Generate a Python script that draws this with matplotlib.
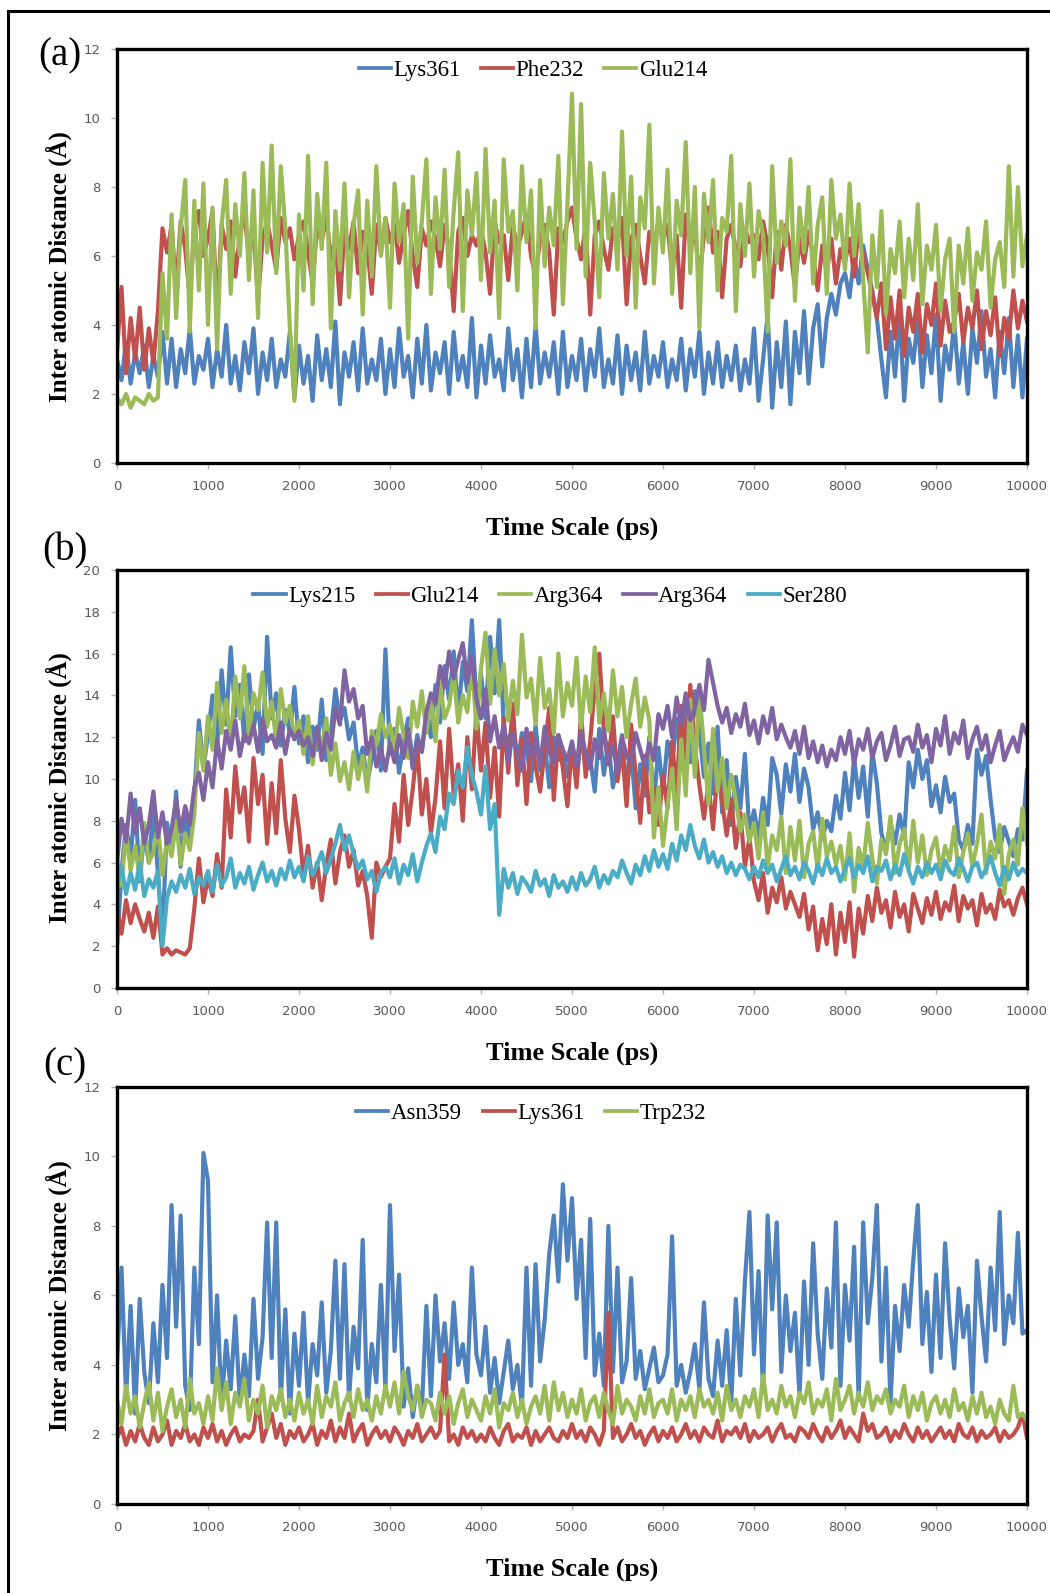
import numpy as np
import matplotlib
matplotlib.use("Agg")
import matplotlib.pyplot as plt
from matplotlib.patches import Rectangle

# ---- panel (a) ----
a_labels = ['Lys361', 'Phe232', 'Glu214']
a_lys361 = [
    3.0, 2.4, 3.5, 2.3, 3.2, 2.6, 3.4, 2.2, 3.1, 2.5, 3.8, 2.3, 3.6, 2.2, 3.3, 2.6, 3.9, 2.3, 3.1, 2.7,
    3.6, 2.2, 3.3, 2.5, 4.0, 2.3, 3.1, 2.1, 3.5, 2.6, 3.9, 2.0, 3.2, 2.4, 3.6, 2.2, 3.0, 2.5, 3.8, 1.9,
    3.4, 2.3, 3.1, 1.8, 3.7, 2.4, 3.3, 2.2, 4.1, 1.7, 3.2, 2.5, 3.5, 2.1, 3.9, 2.3, 3.0, 2.4, 3.6, 2.0,
    3.3, 2.2, 3.9, 2.5, 3.1, 1.9, 3.6, 2.3, 4.0, 2.1, 3.2, 2.6, 3.5, 2.0, 3.8, 2.4, 3.1, 2.2, 4.2, 1.9,
    3.4, 2.3, 3.7, 2.5, 3.0, 2.1, 3.9, 2.4, 3.3, 1.9, 3.6, 2.2, 4.0, 2.3, 3.2, 2.5, 3.5, 2.0, 3.8, 2.2,
    3.1, 2.4, 3.6, 2.1, 3.3, 2.5, 3.9, 2.2, 3.0, 2.3, 3.7, 2.0, 3.4, 2.4, 3.2, 2.1, 3.8, 2.3, 3.1, 2.5,
    3.5, 2.2, 3.0, 2.4, 3.6, 2.1, 3.3, 2.5, 3.8, 2.0, 3.2, 2.3, 3.5, 2.2, 3.1, 2.4, 3.4, 2.1, 3.0, 2.3,
    3.9, 1.8, 3.0, 4.3, 1.6, 3.5, 2.2, 4.1, 1.7, 3.8, 2.6, 4.4, 2.3, 3.9, 4.6, 2.8, 4.2, 4.9, 4.3, 5.2,
    5.5, 4.8, 6.0, 5.2, 6.3, 5.6, 5.0, 4.2, 3.0, 1.9, 3.8, 2.5, 4.4, 1.8, 3.6, 2.9, 4.2, 2.2, 3.7, 2.6,
    4.3, 1.8, 3.4, 2.7, 4.1, 2.3, 3.5, 2.0, 3.9, 2.9, 4.4, 2.5, 3.3, 1.9, 3.8, 2.6, 4.2, 2.2, 3.7, 1.9,
    3.6]
a_phe232 = [
    3.2, 5.1, 2.6, 4.2, 3.0, 4.5, 2.7, 3.9, 2.9, 4.4, 6.8, 6.1, 6.9, 5.0, 7.0, 6.2, 4.8, 6.8, 7.3, 6.0,
    6.5, 7.3, 4.3, 6.9, 6.2, 7.0, 5.4, 6.6, 7.2, 6.0, 6.8, 4.7, 6.5, 7.0, 6.3, 5.6, 7.1, 6.4, 6.8, 5.9,
    6.6, 7.0, 6.1, 5.2, 6.9, 6.4, 7.2, 5.9, 6.5, 4.6, 6.8, 6.2, 7.0, 5.5, 6.7, 6.3, 4.9, 6.9, 6.1, 7.1,
    6.4, 6.9, 5.8, 6.6, 7.3, 6.0, 5.1, 6.8, 6.3, 7.0, 6.5, 5.7, 6.9, 6.2, 4.4, 6.7, 7.1, 6.0, 6.6, 6.3,
    6.8, 6.1, 4.9, 7.0, 6.4, 6.6, 5.3, 6.9, 6.2, 6.7, 7.2, 6.0, 5.4, 6.5, 6.9, 6.1, 4.3, 6.8, 6.4, 7.0,
    7.4, 6.5, 5.9, 6.9, 4.3, 6.6, 7.0, 6.2, 5.6, 6.8, 6.4, 7.1, 4.6, 6.5, 6.9, 6.0, 5.2, 6.7, 6.3, 7.0,
    6.5, 6.9, 5.5, 6.6, 4.5, 7.2, 6.3, 6.8, 5.3, 6.6, 7.4, 6.1, 6.7, 4.8, 6.5, 6.9, 6.2, 5.7, 6.8, 6.4,
    6.6, 5.9, 7.0, 6.3, 4.8, 6.7, 5.6, 6.9, 6.2, 5.1, 6.5, 5.8, 6.7, 6.0, 5.0, 6.3, 5.5, 6.5, 5.2, 6.2,
    5.8, 6.5, 5.4, 6.8, 6.0, 5.5, 4.9, 4.2, 5.2, 3.3, 4.8, 3.6, 5.0, 3.1, 4.5, 3.8, 4.9, 3.2, 4.6, 4.0,
    5.2, 3.4, 4.7, 3.8, 4.1, 4.9, 3.5, 4.5, 3.9, 5.0, 3.3, 4.4, 3.7, 4.8, 3.1, 4.2, 3.6, 5.0, 3.9, 4.7,
    4.1]
a_glu214 = [
    1.9, 1.7, 2.0, 1.6, 1.9, 1.8, 1.7, 2.0, 1.8, 1.9, 5.5, 3.6, 7.2, 4.2, 6.8, 8.2, 3.8, 7.6, 5.0, 8.1,
    4.0, 7.4, 3.3, 6.9, 8.2, 4.9, 7.5, 6.0, 8.4, 5.3, 7.9, 4.2, 8.7, 6.1, 9.2, 5.5, 8.6, 6.8, 3.9, 1.8,
    7.2, 5.0, 8.9, 4.6, 7.8, 6.2, 8.7, 3.9, 7.3, 5.6, 8.1, 4.8, 6.9, 7.9, 4.3, 7.6, 5.4, 8.6, 6.0, 7.1,
    4.5, 8.1, 6.4, 7.5, 3.6, 8.3, 5.8, 7.0, 8.8, 4.9, 7.7, 6.2, 8.5, 5.1, 7.3, 9.0, 4.4, 7.9, 6.6, 8.4,
    5.3, 9.1, 6.1, 7.6, 4.2, 8.8, 6.7, 7.3, 5.0, 8.6, 6.4, 7.9, 3.9, 8.2, 5.7, 7.4, 6.3, 8.9, 4.6, 7.5,
    10.7, 6.2, 10.4, 5.4, 8.7, 7.0, 4.8, 8.4, 6.5, 7.8, 5.6, 9.6, 6.0, 8.3, 4.5, 7.7, 6.8, 9.8, 5.2, 7.4,
    6.1, 8.5, 4.9, 7.6, 6.6, 9.3, 5.5, 8.0, 3.9, 7.8, 6.4, 8.2, 5.0, 7.1, 6.7, 8.9, 4.4, 7.5, 6.0, 8.1,
    5.4, 7.3, 6.6, 3.8, 8.6, 5.8, 7.0, 6.3, 8.8, 4.7, 7.4, 6.1, 8.0, 5.2, 6.9, 7.7, 4.9, 8.2, 6.5, 7.2,
    5.6, 8.1, 6.0, 7.5, 5.3, 3.2, 6.6, 5.1, 7.3, 4.3, 6.2, 5.5, 7.0, 4.8, 6.5, 5.3, 7.5, 4.6, 6.3, 5.6,
    6.9, 4.4, 5.9, 6.5, 3.8, 6.3, 5.2, 6.8, 4.7, 6.1, 5.6, 7.0, 4.5, 5.9, 6.4, 5.1, 8.6, 5.4, 8.0, 5.7,
    6.6]

# ---- panel (b) ----
b_labels = ['Lys215', 'Glu214', 'Arg364', 'Arg364', 'Ser280']
b_lys215 = [
    1.9, 5.6, 7.8, 6.2, 9.0, 5.1, 7.4, 6.0, 8.5, 5.5, 2.5, 7.9, 6.4, 9.4, 5.8, 8.3, 7.0, 9.2, 12.8, 10.5,
    12.1, 14.0, 11.5, 15.2, 12.6, 16.3, 13.0, 14.5, 11.8, 15.0, 12.4, 13.6, 11.2, 16.8, 12.9, 14.1, 11.6, 13.3, 12.2, 14.4,
    11.7, 13.0, 10.8, 12.5, 11.4, 13.8, 10.9, 12.2, 14.3, 12.8, 13.4, 11.9, 12.7, 10.6, 11.5, 9.8, 11.0, 12.3, 10.4, 16.2,
    11.2, 12.4, 10.3, 11.8, 12.9, 10.6, 12.1, 11.3, 13.2, 12.0, 14.5, 12.7, 15.4, 13.8, 16.1, 13.0, 15.6, 14.2, 17.6, 13.6,
    15.0, 12.9, 16.8, 14.1, 17.6, 12.5, 11.4, 13.0, 10.8, 12.2, 11.5, 9.9, 12.6, 10.4, 11.8, 9.6, 12.0, 10.9, 11.3, 10.1,
    11.6, 9.8, 12.2, 10.5, 11.0, 9.4, 12.4, 10.2, 11.7, 9.6, 10.8, 12.1, 9.5, 11.3, 8.6, 10.7, 9.2, 12.0, 8.8, 11.5,
    9.4, 11.8, 10.6, 12.9, 11.0, 13.6, 10.8, 14.2, 12.3, 10.1, 11.7, 9.3, 12.5, 8.4, 10.9, 7.8, 10.1, 8.6, 11.2, 7.4,
    8.5, 7.2, 9.1, 7.8, 11.0, 10.2, 8.3, 10.7, 9.4, 11.2, 8.9, 10.5, 9.6, 7.6, 8.4, 7.1, 8.0, 7.5, 9.2, 8.1,
    10.3, 8.5, 11.0, 9.1, 10.6, 8.2, 11.3, 9.8, 7.4, 6.6, 7.9, 6.9, 8.3, 7.2, 10.8, 9.6, 11.4, 10.0, 10.9, 8.7,
    9.7, 8.4, 10.1, 8.9, 9.3, 7.1, 6.6, 7.8, 6.9, 11.4, 10.2, 11.1, 9.0, 7.2, 6.5, 7.7, 7.0, 6.3, 7.6, 7.1,
    10.4]
b_glu214 = [
    3.8, 2.6, 4.2, 3.1, 4.0, 3.3, 2.7, 3.6, 2.4, 3.9, 1.6, 1.9, 1.6, 1.8, 1.7, 1.6, 1.9, 3.8, 6.2, 4.1,
    5.3, 4.4, 6.4, 4.8, 9.5, 7.2, 10.6, 8.4, 9.6, 7.0, 11.0, 8.8, 10.2, 6.9, 9.8, 7.4, 10.9, 8.1, 6.5, 9.2,
    7.6, 5.4, 6.8, 4.8, 6.0, 4.2, 5.9, 7.1, 5.0, 6.5, 7.3, 5.8, 6.6, 4.9, 5.6, 4.4, 2.4, 6.0, 5.3, 5.8,
    6.2, 8.8, 7.0, 10.2, 7.8, 9.5, 11.6, 8.3, 10.0, 7.4, 9.1, 11.8, 8.6, 12.4, 9.3, 10.7, 8.0, 12.0, 9.5, 13.3,
    10.4, 12.7, 9.1, 11.5, 8.2, 12.9, 10.3, 13.6, 9.7, 11.9, 8.8, 12.2, 10.6, 9.4, 11.4, 13.4, 9.0, 12.1, 10.5, 8.7,
    11.7, 9.6, 13.2, 10.1, 11.8, 14.4, 16.0, 12.3, 10.7, 13.0, 9.9, 11.5, 8.7, 12.6, 10.2, 7.9, 11.1, 8.4, 9.6, 7.8,
    10.2, 8.6, 11.8, 9.3, 13.5, 10.8, 14.5, 11.6, 9.7, 8.1, 9.8, 7.6, 10.4, 8.9, 7.3, 9.0, 6.7, 8.4, 5.8, 7.2,
    5.1, 4.2, 5.5, 3.6, 4.8, 4.1, 5.3, 3.8, 4.6, 4.0, 3.4, 4.5, 2.8, 3.9, 1.8, 3.3, 2.1, 4.0, 1.6, 3.6,
    2.2, 4.1, 1.5, 3.8, 2.6, 4.4, 3.2, 4.8, 3.6, 4.2, 2.9, 4.6, 3.4, 4.0, 2.7, 4.5, 3.8, 3.1, 4.3, 3.5,
    4.6, 3.3, 4.1, 3.7, 4.9, 3.2, 4.4, 3.8, 4.2, 3.0, 4.5, 3.6, 4.0, 3.3, 4.7, 3.9, 4.2, 3.5, 4.3, 4.8,
    4.0]
b_arg364_g = [
    6.2, 4.9, 7.5, 5.6, 6.8, 5.2, 7.9, 6.0, 6.5, 7.8, 5.4, 7.1, 6.3, 8.0, 5.9, 7.4, 6.6, 8.3, 12.2, 10.4,
    13.0, 11.4, 14.6, 12.2, 13.8, 11.6, 14.9, 12.9, 15.4, 12.0, 14.1, 13.3, 15.1, 12.5, 13.7, 11.8, 14.3, 12.7, 13.5, 11.9,
    12.8, 11.2, 13.0, 10.7, 12.4, 11.5, 12.9, 10.2, 11.7, 9.9, 10.8, 9.5, 11.3, 10.0, 11.1, 9.4, 12.3, 11.6, 13.1, 12.0,
    12.6, 11.3, 13.4, 12.1, 11.0, 13.7, 12.5, 14.2, 12.2, 13.9, 11.8, 14.6, 12.9, 13.5, 15.1, 12.7, 14.0, 13.2, 15.6, 12.4,
    15.3, 17.0, 13.6, 16.2, 14.0, 15.5, 12.8, 14.7, 13.1, 16.9, 13.9, 14.8, 12.6, 15.8, 13.4, 14.3, 12.2, 16.0, 13.0, 14.6,
    13.5, 15.8, 12.4, 14.9, 13.2, 16.3, 12.7, 14.1, 12.3, 15.2, 13.0, 14.4, 12.0, 13.6, 14.8, 12.5, 13.9, 12.8, 7.2, 9.6,
    6.8, 8.7, 10.5, 7.6, 11.9, 9.2, 13.8, 10.1, 14.2, 11.5, 8.8, 12.4, 9.4, 11.0, 8.6, 10.2, 9.0, 7.5, 8.3, 7.0,
    7.9, 6.2, 8.4, 5.8, 7.3, 6.6, 8.2, 5.5, 7.7, 6.1, 8.0, 5.3, 6.9, 7.5, 5.6, 8.1, 6.3, 7.0, 5.9, 6.8,
    5.2, 7.4, 4.6, 6.7, 5.8, 7.9, 6.2, 5.0, 7.1, 6.4, 8.2, 5.5, 6.9, 7.6, 5.7, 8.0, 6.0, 7.3, 5.4, 6.6,
    7.2, 5.6, 6.8, 6.1, 7.7, 5.3, 6.5, 7.4, 5.8, 6.9, 8.3, 5.5, 7.0, 6.2, 7.8, 4.5, 6.4, 7.1, 5.9, 8.6,
    6.9]
b_arg364_p = [
    6.0, 8.1, 7.0, 9.3, 7.4, 8.6, 6.9, 7.8, 9.4, 7.2, 8.4, 6.9, 7.6, 9.0, 7.5, 8.7, 7.8, 9.6, 10.3, 9.0,
    10.8, 9.6, 11.9, 10.5, 12.3, 11.4, 12.8, 11.1, 12.2, 11.7, 12.6, 11.3, 12.9, 11.8, 12.1, 11.5, 12.7, 11.2, 12.4, 11.9,
    12.3, 11.6, 12.0, 11.1, 12.5, 10.9, 12.2, 11.4, 13.4, 12.6, 15.2, 13.7, 14.3, 12.9, 13.5, 11.2, 12.0, 10.6, 11.5, 10.4,
    11.7, 10.8, 12.1, 11.0, 12.4, 10.5, 11.9, 11.3, 13.2, 14.1, 13.6, 15.4, 14.4, 16.1, 14.8, 15.7, 16.5, 14.6, 15.9, 13.8,
    12.9, 14.3, 11.8, 13.0, 11.5, 12.6, 10.8, 12.2, 11.1, 10.4, 12.4, 11.0, 11.9, 10.6, 12.5, 11.3, 10.7, 12.1, 11.4, 10.9,
    11.8, 10.6, 12.3, 11.2, 10.5, 11.9, 11.0, 12.4, 10.7, 11.6, 10.3, 12.0, 11.1, 10.8, 12.2, 11.4, 10.6, 11.7, 10.9, 13.1,
    12.4, 13.5, 12.0, 13.9, 12.6, 14.1, 12.8, 13.4, 14.5, 13.3, 15.7, 14.6, 13.5, 12.7, 13.4, 12.2, 13.1, 12.5, 13.6, 12.1,
    12.8, 11.7, 13.0, 12.2, 13.4, 11.9, 12.6, 12.0, 11.5, 12.3, 11.2, 12.5, 11.0, 11.8, 10.8, 11.6, 10.6, 11.4, 10.9, 12.0,
    11.2, 12.3, 10.7, 11.9, 11.4, 12.4, 11.0, 11.8, 12.2, 10.9, 11.6, 12.5, 11.1, 11.9, 12.0, 11.3, 12.6, 11.5, 12.1, 10.8,
    12.4, 11.6, 13.0, 11.2, 12.2, 11.7, 12.8, 11.0, 11.9, 12.5, 11.4, 12.1, 10.8, 11.6, 12.3, 10.9, 11.5, 12.0, 11.3, 12.6,
    12.1]
b_ser280 = [
    4.9, 5.8, 4.5, 5.5, 4.7, 6.0, 4.4, 5.2, 4.8, 5.6, 2.0, 4.3, 5.1, 4.6, 5.4, 4.8, 5.7, 4.5, 5.3, 4.9,
    5.6, 4.6, 5.9, 4.9, 5.3, 6.2, 4.8, 5.5, 5.0, 5.8, 4.7, 5.4, 6.0, 5.1, 5.6, 4.9, 5.7, 5.2, 6.1, 5.3,
    5.8, 5.1, 6.3, 5.4, 5.9, 6.5, 5.5, 6.2, 6.9, 7.8, 6.6, 7.3, 6.4, 5.7, 6.1, 5.2, 5.6, 4.6, 5.5, 5.8,
    5.3, 6.2, 5.0, 5.9, 5.4, 6.4, 5.1, 6.0, 6.8, 7.4, 6.5, 8.2, 7.6, 9.3, 8.8, 10.4, 9.6, 11.5, 10.2, 9.4,
    8.3, 10.6, 7.6, 8.8, 3.5, 5.7, 4.8, 5.5, 4.5, 5.3, 5.0, 4.6, 5.6, 4.9, 5.2, 4.4, 5.4, 4.8, 5.1, 4.6,
    5.3, 4.7, 5.5, 4.9, 5.2, 5.8, 4.8, 5.4, 5.0, 5.6, 5.3, 6.1, 5.5, 5.0, 5.9, 5.4, 6.3, 5.6, 6.6, 5.8,
    6.4, 5.7, 6.9, 6.1, 7.3, 6.6, 7.8, 6.8, 6.2, 7.1, 6.0, 6.5, 5.8, 6.3, 5.5, 6.0, 5.4, 5.9, 5.7, 5.2,
    5.8, 5.3, 6.1, 5.5, 5.9, 5.1, 5.7, 6.3, 5.4, 5.8, 5.2, 6.0, 5.6, 5.0, 5.9, 5.4, 6.2, 5.5, 5.8, 5.1,
    5.7, 6.2, 5.3, 5.9, 5.5, 6.3, 5.1, 5.8, 5.6, 6.1, 5.2, 5.9, 5.4, 6.4, 5.6, 5.0, 5.8, 5.3, 6.0, 5.5,
    5.9, 5.2, 6.1, 5.6, 5.4, 6.2, 5.7, 5.1, 5.8, 6.0, 5.3, 5.7, 6.3, 5.5, 4.9, 5.8, 5.2, 6.0, 5.4, 5.7,
    5.5]

# ---- panel (c) ----
c_labels = ['Asn359', 'Lys361', 'Trp232']
c_asn359 = [
    4.0, 6.8, 3.1, 5.7, 2.6, 5.9, 3.8, 2.9, 5.2, 3.5, 6.3, 4.2, 8.6, 5.1, 8.3, 3.4, 2.7, 6.8, 4.6, 10.1,
    9.3, 3.5, 6.0, 2.8, 4.7, 3.3, 5.4, 2.9, 4.3, 3.1, 5.9, 3.6, 4.8, 8.1, 4.2, 8.1, 3.0, 5.6, 2.6, 4.9,
    3.4, 5.5, 2.9, 4.6, 3.7, 5.8, 3.2, 4.4, 7.0, 3.6, 6.9, 3.0, 5.1, 3.9, 7.6, 2.7, 4.6, 3.5, 6.3, 3.3,
    8.6, 4.4, 6.6, 2.8, 3.9, 2.5, 3.4, 2.7, 5.7, 3.1, 6.0, 4.1, 5.2, 3.6, 5.8, 4.0, 4.6, 3.5, 6.8, 4.3,
    3.7, 5.1, 3.2, 4.2, 2.9, 3.8, 4.7, 3.3, 4.0, 2.8, 6.8, 3.4, 6.9, 4.1, 5.3, 7.2, 8.3, 6.4, 9.2, 7.0,
    8.8, 5.9, 7.6, 4.2, 8.2, 3.7, 4.9, 3.4, 8.0, 3.8, 6.8, 3.5, 4.1, 6.5, 3.6, 4.4, 3.3, 3.9, 4.5, 3.5,
    3.7, 4.3, 7.7, 3.4, 4.0, 3.2, 3.8, 4.6, 3.3, 5.8, 3.6, 3.1, 4.7, 3.4, 5.0, 2.9, 5.9, 3.7, 6.4, 8.4,
    4.3, 6.7, 3.2, 8.3, 5.6, 8.1, 3.8, 6.0, 4.4, 5.5, 3.1, 6.4, 4.0, 7.5, 4.9, 3.6, 6.2, 4.5, 8.1, 3.4,
    6.3, 4.7, 7.4, 3.0, 8.1, 5.2, 6.5, 8.6, 4.1, 6.8, 2.9, 5.7, 4.4, 6.3, 5.1, 7.0, 8.6, 4.6, 6.1, 3.8,
    6.6, 4.2, 7.5, 5.3, 3.9, 6.2, 4.8, 5.7, 3.2, 7.0, 5.4, 4.1, 6.8, 5.0, 8.4, 4.6, 6.0, 5.2, 7.8, 4.9,
    5.0]
c_lys361 = [
    1.9, 2.2, 1.7, 2.1, 1.8, 2.3, 1.9, 1.7, 2.2, 1.8, 2.0, 2.4, 1.7, 2.1, 1.9, 2.3, 1.8, 2.0, 1.7, 2.2,
    1.9, 2.3, 1.8, 2.1, 1.7, 2.0, 2.2, 1.8, 2.0, 1.9, 2.1, 3.0, 1.8, 2.2, 2.6, 1.9, 2.3, 1.7, 2.1, 1.9,
    2.2, 1.8, 2.0, 2.3, 1.7, 2.1, 1.9, 2.4, 1.8, 2.2, 1.9, 2.6, 1.8, 2.1, 2.3, 1.7, 2.0, 2.2, 1.9, 2.1,
    1.8, 2.2, 2.0, 1.7, 2.1, 1.9, 2.3, 1.8, 2.0, 2.2, 1.9, 2.1, 4.3, 1.8, 2.0, 1.7, 2.2, 1.9, 2.1, 1.8,
    2.0, 1.8, 2.2, 1.9, 1.7, 2.1, 2.3, 1.8, 2.0, 1.9, 2.2, 1.7, 2.1, 1.8, 2.0, 2.2, 1.9, 1.8, 2.1, 1.9,
    2.3, 1.9, 2.1, 1.8, 2.2, 2.0, 1.7, 2.1, 5.5, 1.9, 2.2, 1.8, 2.0, 2.3, 1.9, 2.1, 1.7, 2.0, 2.2, 1.8,
    2.1, 1.9, 2.2, 1.8, 2.0, 2.3, 1.9, 2.1, 1.8, 2.2, 2.0, 1.9, 2.4, 1.8, 2.1, 2.0, 2.2, 1.9, 2.3, 1.8,
    2.1, 1.9, 2.0, 2.2, 1.8, 2.1, 2.3, 1.9, 2.0, 1.8, 2.2, 2.1, 1.9, 2.3, 2.0, 1.8, 2.2, 1.9, 2.1, 2.4,
    1.9, 2.2, 2.0, 1.8, 2.6, 2.1, 2.3, 1.9, 2.0, 2.2, 1.8, 2.1, 1.9, 2.3, 2.0, 1.8, 2.2, 1.9, 2.1, 1.8,
    2.0, 2.2, 1.9, 2.1, 1.8, 2.3, 2.0, 1.9, 2.2, 1.8, 2.1, 1.9, 2.0, 2.2, 1.8, 2.1, 1.9, 2.0, 2.2, 2.6,
    1.9]
c_trp232 = [
    3.0, 2.3, 3.4, 2.6, 3.1, 2.2, 2.9, 3.5, 2.4, 3.2, 2.1, 2.8, 3.3, 2.5, 3.0, 2.2, 3.6, 2.6, 2.9, 2.3,
    3.1, 2.4, 3.9, 2.7, 3.5, 2.3, 3.2, 2.8, 3.6, 2.4, 3.0, 2.6, 3.4, 2.2, 3.1, 2.7, 3.3, 2.5, 3.0, 2.4,
    3.2, 2.6, 3.0, 2.3, 3.4, 2.5, 3.1, 2.8, 3.5, 2.4, 2.9, 3.2, 2.5, 3.3, 2.7, 3.0, 2.4, 3.1, 2.6, 3.4,
    2.8, 3.5, 2.6, 3.8, 3.1, 2.7, 3.4, 2.5, 3.0, 2.9, 2.4, 3.2, 2.6, 3.1, 2.3, 2.9, 3.3, 2.5, 3.0, 2.7,
    2.4, 3.1, 2.6, 3.3, 2.2, 2.9, 2.7, 3.2, 2.5, 3.0, 2.3, 2.8, 3.1, 2.6, 3.4, 2.4, 3.5, 2.7, 3.2, 2.5,
    3.0, 2.6, 3.3, 2.4, 2.9, 3.1, 2.5, 3.2, 2.7, 2.3, 3.4, 2.6, 3.0, 2.8, 2.4, 3.1, 2.6, 3.3, 2.5, 2.9,
    3.0, 2.6, 3.3, 2.4, 3.0, 2.7, 3.1, 2.5, 3.3, 2.8, 3.0, 2.6, 3.2, 2.4, 3.4, 2.7, 3.0, 2.5, 3.1, 2.8,
    3.3, 2.5, 3.7, 2.7, 3.0, 2.6, 3.4, 2.8, 3.1, 2.5, 3.2, 2.9, 3.5, 2.6, 3.0, 2.8, 3.3, 2.4, 3.6, 2.7,
    3.0, 3.4, 2.6, 3.2, 2.8, 3.5, 2.7, 3.1, 2.9, 3.3, 2.6, 3.0, 2.8, 3.4, 2.5, 3.1, 2.7, 3.2, 2.4, 2.9,
    3.1, 2.6, 3.0, 2.5, 3.3, 2.7, 2.9, 2.4, 3.1, 2.6, 3.2, 2.5, 2.8, 2.3, 3.0, 2.6, 2.4, 3.4, 2.5, 2.6,
    2.4]

xticks = [0, 1000, 2000, 3000, 4000, 5000, 6000, 7000, 8000, 9000, 10000]

BLUE = '#4F81BD'
RED = '#C0504D'
GREEN = '#9BBB59'
PURPLE = '#8064A2'
AQUA = '#4BACC6'

fig = plt.figure(figsize=(10.5, 15.93), dpi=100)

# outer frame, open on the right / bottom like the cropped original
fig.patches.append(Rectangle((8 / 1050, -0.05), 1.2, 1.05 - 11 / 1593,
                             transform=fig.transFigure, fill=False,
                             edgecolor='black', linewidth=2.2, zorder=0))

panels = [
    ('(a)', [0.1114, 0.7094, 0.8667, 0.2599], 12, a_labels,
     [a_lys361, a_phe232, a_glu214], [BLUE, RED, GREEN], (0.457, 1.022), 60, 56, 0.475),
    ('(b)', [0.1114, 0.3798, 0.8667, 0.2624], 20, b_labels,
     [b_lys215, b_glu214, b_arg364_g, b_arg364_p, b_ser280],
     [BLUE, RED, GREEN, PURPLE, AQUA], (0.476, 1.01), 65, 551, 0.48),
    ('(c)', [0.1114, 0.0559, 0.8667, 0.2618], 12, c_labels,
     [c_asn359, c_lys361, c_trp232], [BLUE, RED, GREEN], (0.455, 1.01), 65, 1066, 0.5),
]

for tag, rect, ymax, labels, series, colors, legpos, tagx, tagy, ylab_y in panels:
    ax = fig.add_axes(rect)
    for vals, lab, col in zip(series, labels, colors):
        t = np.linspace(0, 10000, len(vals))
        ax.plot(t, vals, color=col, lw=3.0, label=lab)
    ax.set_xlim(0, 10000)
    ax.set_ylim(0, ymax)
    ax.set_xticks(xticks)
    ax.set_yticks(np.arange(0, ymax + 1, 2))
    for sp in ax.spines.values():
        sp.set_linewidth(2.4)
        sp.set_color('black')
    ax.tick_params(direction='out', length=4, width=1, color='#B0B0B0',
                   labelsize=9.5, labelcolor='#595959', pad=8)
    ax.set_xlabel('Time Scale (ps)', family='Liberation Serif',
                  fontweight='bold', fontsize=19, labelpad=17)
    ax.set_ylabel('Inter atomic Distance (\u00c5)', family='Liberation Serif',
                  fontweight='bold', fontsize=18, labelpad=8)
    ax.yaxis.set_label_coords(-0.0495, ylab_y)
    leg = ax.legend(loc='upper center', bbox_to_anchor=legpos, ncol=len(labels),
                    frameon=False, handlelength=1.4, handletextpad=0.1,
                    columnspacing=0.9, prop={'family': 'Liberation Serif', 'size': 16.5})
    for h in leg.get_lines():
        h.set_linewidth(2.7)
    fig.text(tagx / 1050, 1 - tagy / 1593, tag, family='Liberation Serif',
             fontsize=28, ha='center', va='center')

fig.savefig('out.png', dpi=100)
